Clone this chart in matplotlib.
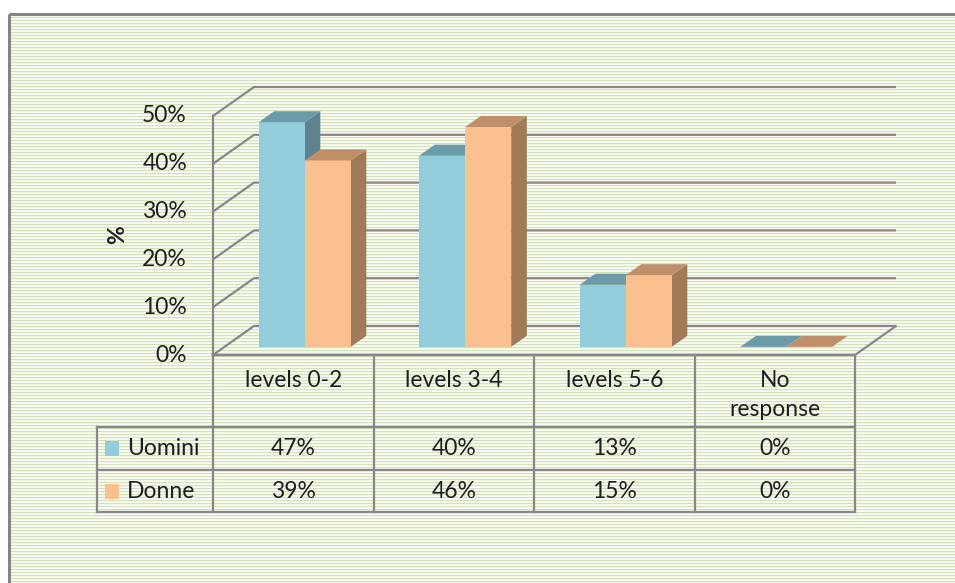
import numpy as np
import matplotlib.pyplot as plt
from matplotlib.patches import Polygon, Rectangle

categories = ['levels 0-2', 'levels 3-4', 'levels 5-6', 'No\nresponse']
series = ['Uomini', 'Donne']
uomini = [47, 40, 13, 0]
donne = [39, 46, 15, 0]
yticks = [0, 10, 20, 30, 40, 50]

front_colors = ['#92CDDC', '#FAC090']
top_colors = ['#6B9AA8', '#BF8F69']
side_colors = ['#5E838F', '#A17A57']
grid_col = '#878787'
text_col = '#1E1E1E'

W, H = 955, 583
PLOT_L, PLOT_R = 213, 855        # front edge of the floor, in pixels
Y0, Y50 = 355, 116               # front 0% and 50% rows, in pixels
DEPTH = (41, 29)                 # floor depth offset in pixels (right, up)
ROWS = [355, 427, 470, 512]      # data table row lines
LABEL_L = 97
FS = 16.5

plt.rcParams['font.family'] = ['Lato', 'DejaVu Sans']

fig = plt.figure(figsize=(W / 100, H / 100), dpi=100)
bg = fig.add_axes([0, 0, 1, 1])
bg.axis('off')

# green pinstripe fill of the chart area
n = H - 14
stripes = np.array([[0.83, 0.89, 0.73], [0.95, 0.97, 0.91], [0.98, 0.99, 0.96]])
img = stripes[np.arange(n) % 3][:, None, :].repeat(4, axis=1)
bg.imshow(img, extent=(9, W, H, 14), aspect='auto', interpolation='nearest', zorder=0)
bg.add_patch(Rectangle((9, 14), W, H, fill=False, ec='#858585', lw=2.2, zorder=1))
bg.set_xlim(0, W)
bg.set_ylim(H, 0)

# chart axes: x in category units, y in percent on the front plane
ax = fig.add_axes([PLOT_L / W, (H - Y0) / H, (PLOT_R - PLOT_L) / W, (Y0 - Y50) / H])
ax.set_xlim(-0.5, len(categories) - 0.5)
ax.set_ylim(0, 50)
ax.axis('off')
dx = DEPTH[0] * len(categories) / (PLOT_R - PLOT_L)
dy = DEPTH[1] * 50 / (Y0 - Y50)
x0, x1 = -0.5, len(categories) - 0.5

# side wall + back wall gridlines
for v in yticks[1:]:
    ax.plot([x0, x0 + dx, x1 + dx], [v, v + dy, v + dy], color=grid_col, lw=1.6,
            clip_on=False, solid_capstyle='butt')
# floor outline and front vertical edge
ax.plot([x0, x0 + dx, x1 + dx, x1, x0], [0, dy, dy, 0, 0], color=grid_col, lw=1.6, clip_on=False)
ax.plot([x0, x0], [0, 50], color=grid_col, lw=1.6, clip_on=False)

# 3d columns
bw = 46 * len(categories) / (PLOT_R - PLOT_L)
d1, d2 = 0.28, 0.66
o1x, o1y, o2x, o2y = d1 * dx, d1 * dy, d2 * dx, d2 * dy
for i in range(len(categories)):
    for s, vals in enumerate([uomini, donne]):
        v = vals[i]
        xl = i - bw + s * bw
        xr = xl + bw
        front = [(xl + o1x, o1y), (xr + o1x, o1y), (xr + o1x, v + o1y), (xl + o1x, v + o1y)]
        top = [(xl + o1x, v + o1y), (xr + o1x, v + o1y), (xr + o2x, v + o2y), (xl + o2x, v + o2y)]
        side = [(xr + o1x, o1y), (xr + o2x, o2y), (xr + o2x, v + o2y), (xr + o1x, v + o1y)]
        if v > 0:
            ax.add_patch(Polygon(side, closed=True, fc=side_colors[s], lw=0, clip_on=False, zorder=3))
            ax.add_patch(Polygon(front, closed=True, fc=front_colors[s], lw=0, clip_on=False, zorder=3))
        ax.add_patch(Polygon(top, closed=True, fc=top_colors[s], lw=0, clip_on=False, zorder=3))

# value axis labels
for v in yticks:
    ax.annotate(f'{v}%', xy=(x0, v), xytext=(-26, 0), textcoords='offset pixels',
                ha='right', va='center', fontsize=FS, color=text_col, annotation_clip=False)
bg.text(118, 235, '%', rotation=90, fontweight='bold', ha='center', va='center',
        fontsize=FS, color=text_col)

# data table under the chart
col_x = PLOT_L + (PLOT_R - PLOT_L) / len(categories) * np.arange(len(categories) + 1)
tk = dict(color=grid_col, lw=1.6, solid_capstyle='projecting')
bg.plot([PLOT_L, PLOT_R], [ROWS[0], ROWS[0]], **tk)
for y in ROWS[1:]:
    bg.plot([LABEL_L, PLOT_R], [y, y], **tk)
for x in col_x:
    bg.plot([x, x], [ROWS[0], ROWS[-1]], **tk)
bg.plot([LABEL_L, LABEL_L], [ROWS[1], ROWS[-1]], **tk)

for i, cat in enumerate(categories):
    cx = (col_x[i] + col_x[i + 1]) / 2
    bg.text(cx, 370, cat, ha='center', va='top', fontsize=FS, color=text_col, linespacing=1.5)
    for r, vals in enumerate([uomini, donne]):
        cy = (ROWS[r + 1] + ROWS[r + 2]) / 2
        bg.text(cx, cy, f'{vals[i]}%', ha='center', va='center', fontsize=FS, color=text_col)

for r, name in enumerate(series):
    cy = (ROWS[r + 1] + ROWS[r + 2]) / 2
    bg.add_patch(Rectangle((105, cy - 7.5), 14, 15, fc=front_colors[r], lw=0))
    bg.text(127, cy, name, ha='left', va='center', fontsize=FS, color=text_col)

fig.savefig('out.png', dpi=100)
